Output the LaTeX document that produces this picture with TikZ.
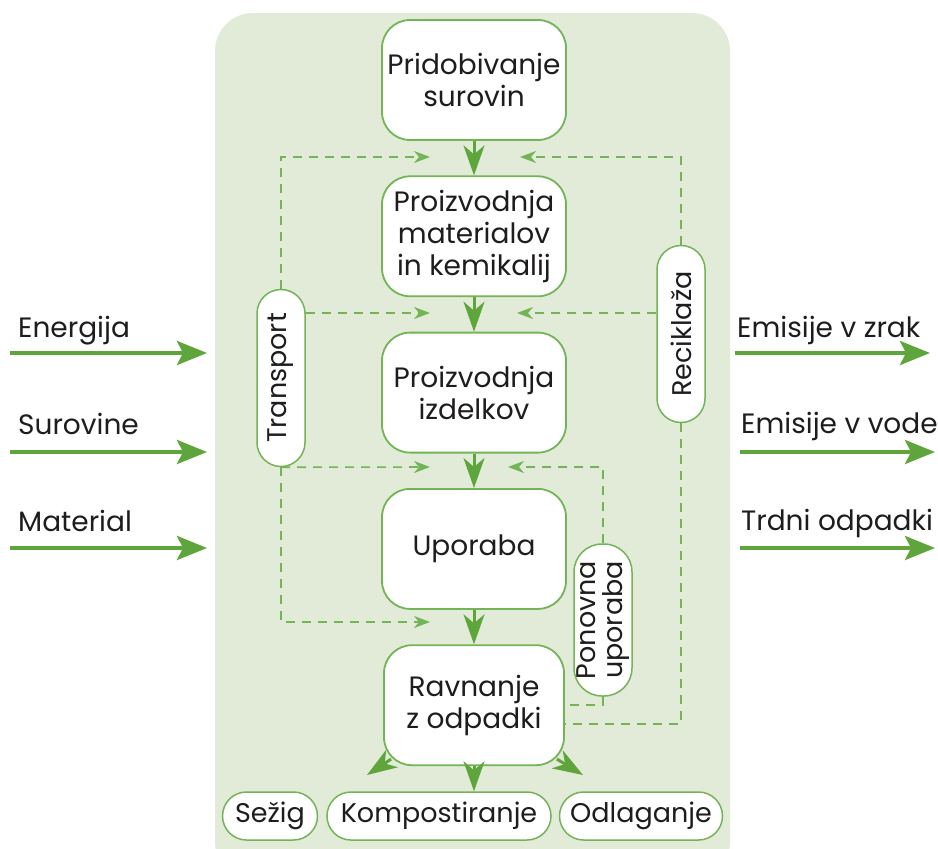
\documentclass[tikz,border=0pt]{standalone}
\usepackage{fontspec}
\setmainfont{Poppins}
\usetikzlibrary{arrows.meta,positioning}

\definecolor{panelgreen}{HTML}{E2EBD8}
\definecolor{linegreen}{HTML}{72B456}
\definecolor{arrowgreen}{HTML}{5EA63C}
\definecolor{inktext}{HTML}{1E1C1D}

\begin{document}
\begin{tikzpicture}[
  x=1pt, y=-1pt,
  font=\fontsize{28}{32}\selectfont, text=inktext,
  box/.style={rectangle, draw=linegreen, line width=1.8pt, fill=white,
              rounded corners=28pt, minimum width=184pt, minimum height=120pt,
              align=center, inner sep=2pt},
  pill/.style={rectangle, draw=linegreen, line width=1.5pt, fill=white,
               rounded corners=24pt, inner sep=0pt, align=center,
               font=\fontsize{27}{31}\selectfont},
  flow/.style={draw=arrowgreen, line width=3pt,
               -{Stealth[length=30pt,width=21pt,inset=9pt]}},
  side/.style={draw=arrowgreen, line width=4pt,
               -{Stealth[length=30pt,width=24pt,inset=6pt]}},
  dsh/.style={draw=linegreen, line width=1.6pt, dash pattern=on 9pt off 7pt,
              -{Stealth[length=16pt,width=12pt,inset=5pt]}},
  lbl/.style={anchor=base west, inner sep=0pt},
  node distance=34.5pt
]
  \useasboundingbox (0,0) rectangle (938,849);
  \fill[panelgreen, rounded corners=38pt] (215,13) rectangle (730,880);

  % life cycle column
  \node[box] (pri) at (474,80) {Pridobivanje\\surovin};
  \node[box, below=of pri] (mat) {Proizvodnja\\materialov\\in kemikalij};
  \node[box, below=of mat] (izd) {Proizvodnja\\izdelkov};
  \node[box, below=of izd] (upo) {Uporaba};
  \node[box, below=of upo, minimum width=180pt] (rav) {Ravnanje\\z odpadki};

  \draw[flow] (pri) -- (mat);
  \draw[flow] (mat) -- (izd);
  \draw[flow] (izd) -- (upo);
  \draw[flow] (upo) -- (rav);

  % side loops
  \node[pill, minimum width=48pt, minimum height=177pt] (trans) at (281,378)
    {\rotatebox{90}{Transport}};
  \node[pill, minimum width=48pt, minimum height=177pt] (recy) at (681,334)
    {\rotatebox{90}{Reciklaža}};
  \node[pill, minimum width=57pt, minimum height=152pt, rounded corners=28pt] (reuse) at (603,620)
    {\rotatebox{90}{\begin{tabular}{@{}c@{}}Ponovna\\[-4pt]uporaba\end{tabular}}};

  \coordinate (tA) at (430,157);
  \coordinate (tB) at (430,313);
  \coordinate (tC) at (430,467);
  \coordinate (tD) at (430,622);
  \coordinate (rA) at (520,157);
  \coordinate (rB) at (517,313);
  \coordinate (pC) at (508,467);
  \coordinate (rvP) at (rav.east |- 0,705);
  \coordinate (rvR) at (rav.east |- 0,724);

  \draw[dsh] (trans.north) |- (tA);
  \draw[dsh] (trans.east |- tB) -- (tB);
  \draw[dsh] (trans.south) -- (tC);
  \draw[dsh] (trans.south) |- (tD);
  \draw[dsh] (recy.north) |- (rA);
  \draw[dsh] (recy.west |- rB) -- (rB);
  \draw[dsh, -] (recy.south) |- (rvR);
  \draw[dsh] (reuse.north) |- (pC);
  \draw[dsh, -] (reuse.south) |- (rvP);

  % end of life
  \node[pill, minimum width=95pt, minimum height=48pt] (sez) at (270,816) {Sežig};
  \node[pill, minimum width=224pt, minimum height=48pt] (komp) at (439,816) {Kompostiranje};
  \node[pill, minimum width=163pt, minimum height=48pt] (odl) at (641,816) {Odlaganje};

  \coordinate (sezT) at (367,775);
  \coordinate (odlT) at (583,775);
  \draw[flow] ([xshift=8pt,yshift=7pt]rav.south west) -- (sezT);
  \draw[flow] (rav.south) -- (rav.south |- komp.north);
  \draw[flow] ([xshift=-8pt,yshift=7pt]rav.south east) -- (odlT);

  % inputs
  \node[lbl] (energ) at (18,337) {Energija};
  \node[lbl] (surov) at (18,434) {Surovine};
  \node[lbl] (mater) at (18,531) {Material};
  \coordinate (inA) at (10,353);  \coordinate (inAe) at (207,353);
  \coordinate (inB) at (10,452);  \coordinate (inBe) at (207,452);
  \coordinate (inC) at (10,548);  \coordinate (inCe) at (207,548);
  \draw[side] (inA) -- (inAe);
  \draw[side] (inB) -- (inBe);
  \draw[side] (inC) -- (inCe);

  % outputs
  \node[lbl] (zrak) at (737,337) {Emisije v zrak};
  \node[lbl] (voda) at (741,433) {Emisije v vode};
  \node[lbl] (trdni) at (741,530) {Trdni odpadki};
  \coordinate (outA) at (735,353);  \coordinate (outAe) at (930,353);
  \coordinate (outB) at (740,452);  \coordinate (outBe) at (935,452);
  \coordinate (outC) at (740,548);  \coordinate (outCe) at (935,548);
  \draw[side] (outA) -- (outAe);
  \draw[side] (outB) -- (outBe);
  \draw[side] (outC) -- (outCe);
\end{tikzpicture}
\end{document}
